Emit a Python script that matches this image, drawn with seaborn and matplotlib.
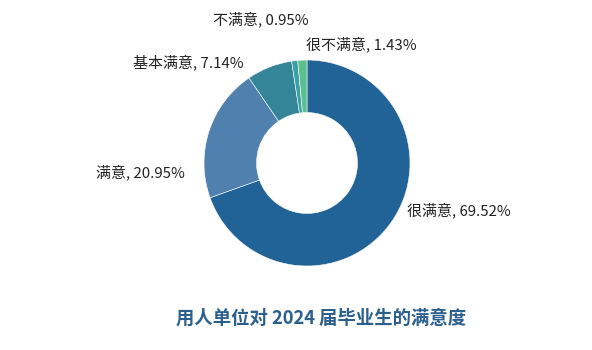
import matplotlib
matplotlib.use("Agg")
import matplotlib.pyplot as plt
import seaborn as sns

# 数据
categories = ["很满意", "满意", "基本满意", "不满意", "很不满意"]
shares = [69.52, 20.95, 7.14, 0.95, 1.43]
colors = ["#216397", "#5080ae", "#338597", "#3a9fa6", "#5cbf8e"]
# 标签位置 (以半径为单位), 对齐方式
label_pos = [(0.97, -0.46, "left"), (-1.19, -0.09, "right"), (-0.62, 0.98, "right"),
             (-0.91, 1.39, "left"), (-0.01, 1.155, "left")]
title = "用人单位对 2024 届毕业生的满意度"

sns.set_theme(style="white")
plt.rcParams["font.family"] = ["Noto Sans CJK SC", "DejaVu Sans"]

fig = plt.figure(figsize=(5.92, 3.5), dpi=100)
ax = fig.add_axes([0, 0, 1, 1])

ax.pie(shares, colors=colors, startangle=90, counterclock=False,
       wedgeprops=dict(width=0.51, edgecolor="white", linewidth=0.4))

for name, val, (x, y, ha) in zip(categories, shares, label_pos):
    ax.text(x, y, f"{name}, {val:.2f}%", ha=ha, va="center", fontsize=10.8, color="#222222")

ax.set_xlim(-307 / 103, (592 - 307) / 103)
ax.set_ylim(-(350 - 163) / 103, 163 / 103)
ax.set_aspect("auto")
ax.axis("off")

fig.text(321 / 592, 1 - 318 / 350, title, ha="center", va="center",
         fontsize=13.2, fontweight="bold", color="#2b5f8e")

fig.savefig("out.png", dpi=100)
